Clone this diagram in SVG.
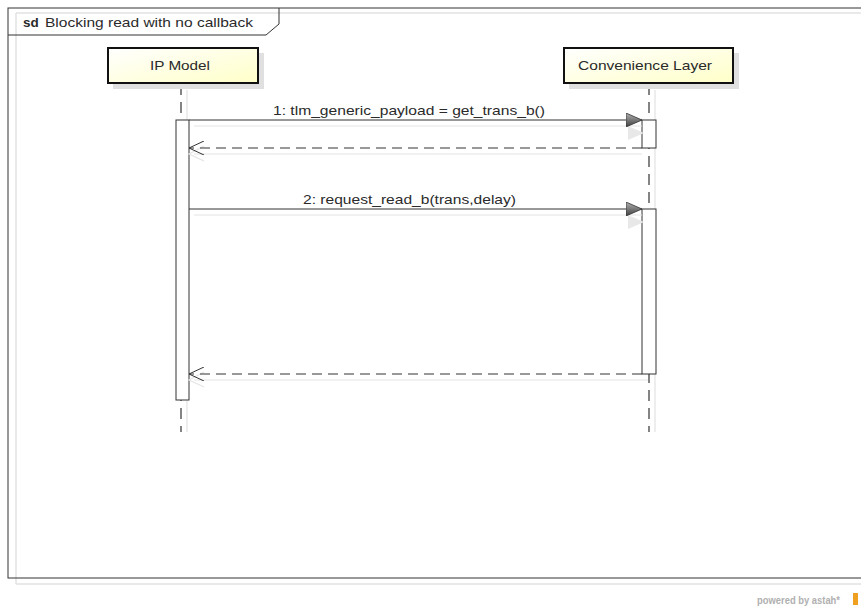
<svg xmlns="http://www.w3.org/2000/svg" width="861" height="610" viewBox="0 0 861 610">
<defs>
<linearGradient id="hl" x1="0" y1="0" x2="1" y2="1">
<stop offset="0" stop-color="#ffffff"/>
<stop offset="1" stop-color="#ffffc8"/>
</linearGradient>
<linearGradient id="ah" x1="0" y1="0" x2="0" y2="1">
<stop offset="0" stop-color="#b0b0b0"/>
<stop offset="1" stop-color="#404040"/>
</linearGradient>
<marker id="sync" viewBox="0 0 16 14" refX="16" refY="7" markerWidth="16" markerHeight="14" markerUnits="userSpaceOnUse" orient="auto">
<path d="M0,0 L16,7 L0,14 Z" fill="url(#ah)" stroke="#333" stroke-width="0.8"/>
</marker>
<marker id="ret" viewBox="0 0 16 14" refX="15" refY="7" markerWidth="16" markerHeight="14" markerUnits="userSpaceOnUse" orient="auto">
<path d="M0,0 L15,7 L0,14" fill="none" stroke="#333" stroke-width="1"/>
</marker>
</defs>
<style>
text{font-family:"Liberation Sans",Arial,sans-serif;font-size:13.5px;fill:#2a2a2a}
.frame{fill:none;stroke:#333;stroke-width:1}
.shadow{fill:none;stroke:#e2e2e2;stroke-width:1.5}
.life{stroke:#333;stroke-width:1.2;stroke-dasharray:11 7;fill:none}
.lifesh{stroke:#e2e2e2;stroke-width:1.2;fill:none}
.head{fill:url(#hl);stroke:#111;stroke-width:2}
.headsh{fill:#e0e0e0;stroke:none}
.act{fill:#fff;stroke:#333;stroke-width:1}
.msg{stroke:#333;stroke-width:1;fill:none}
.msgr{stroke:#333;stroke-width:1;stroke-dasharray:10 6;fill:none}
.msgsh{stroke:#e4e4e4;stroke-width:1.2;fill:none}
</style>
<rect width="861" height="610" fill="#fff"/>
<g id="frame">
<path class="shadow" d="M16,13 L870,13 M16,13 L16,584 M16,584 L870,584"/>
<rect class="frame" x="8" y="8" width="870" height="570"/>
<path class="frame" d="M8,35 L266,35 L279,24 L279,8"/>
<text x="23" y="27"><tspan font-weight="bold">sd</tspan></text>
<text x="45" y="27" textLength="208" lengthAdjust="spacingAndGlyphs">Blocking read with no callback</text>
</g>
<g id="ipmodel">
<line class="lifesh" x1="187" y1="90" x2="187" y2="432"/>
<line class="life" x1="181" y1="84" x2="181" y2="432"/>
<rect class="headsh" x="113" y="53" width="151" height="36"/>
<rect class="head" x="108" y="48" width="150" height="35"/>
<text x="150" y="70" textLength="60" lengthAdjust="spacingAndGlyphs">IP Model</text>
<rect class="act" x="176" y="120" width="13" height="280"/>
</g>
<g id="convlayer">
<line class="lifesh" x1="655" y1="90" x2="655" y2="432"/>
<line class="life" x1="649" y1="84" x2="649" y2="432"/>
<rect class="headsh" x="569" y="53" width="170" height="36"/>
<rect class="head" x="564" y="48" width="169" height="35"/>
<text x="578" y="70" textLength="134" lengthAdjust="spacingAndGlyphs">Convenience Layer</text>
<rect class="act" x="642" y="120" width="14" height="28"/>
<rect class="act" x="642" y="209" width="14" height="165"/>
</g>
<g id="connectors">
<line class="msgsh" x1="194" y1="126" x2="642" y2="126"/>
<path d="M628,126 L644,133 L628,140 Z" fill="#e8e8e8"/>
<line class="msg" x1="189" y1="120" x2="642" y2="120" marker-end="url(#sync)"/>
<text x="273" y="115" textLength="272" lengthAdjust="spacingAndGlyphs">1: tlm_generic_payload = get_trans_b()</text>
<line class="msgsh" x1="194" y1="154" x2="642" y2="154"/>
<path d="M204,146 L189,154 L204,161" fill="none" stroke="#e4e4e4" stroke-width="1.2"/>
<line class="msgr" x1="642" y1="148" x2="189" y2="148" marker-end="url(#ret)"/>
<line class="msgsh" x1="194" y1="215" x2="642" y2="215"/>
<path d="M628,215 L644,222 L628,229 Z" fill="#e8e8e8"/>
<line class="msg" x1="189" y1="209" x2="642" y2="209" marker-end="url(#sync)"/>
<text x="303" y="204" textLength="213" lengthAdjust="spacingAndGlyphs">2: request_read_b(trans,delay)</text>
<line class="msgsh" x1="194" y1="380" x2="648" y2="380"/>
<path d="M204,372 L189,380 L204,387" fill="none" stroke="#e4e4e4" stroke-width="1.2"/>
<line class="msgr" x1="642" y1="374" x2="189" y2="374" marker-end="url(#ret)"/>
</g>
<text x="757" y="604" textLength="83" lengthAdjust="spacingAndGlyphs" font-weight="bold" style="font-size:11px;fill:#b0b0b0">powered by astah*</text>
<rect x="853" y="593" width="5" height="12" fill="#f0a020"/>
</svg>
